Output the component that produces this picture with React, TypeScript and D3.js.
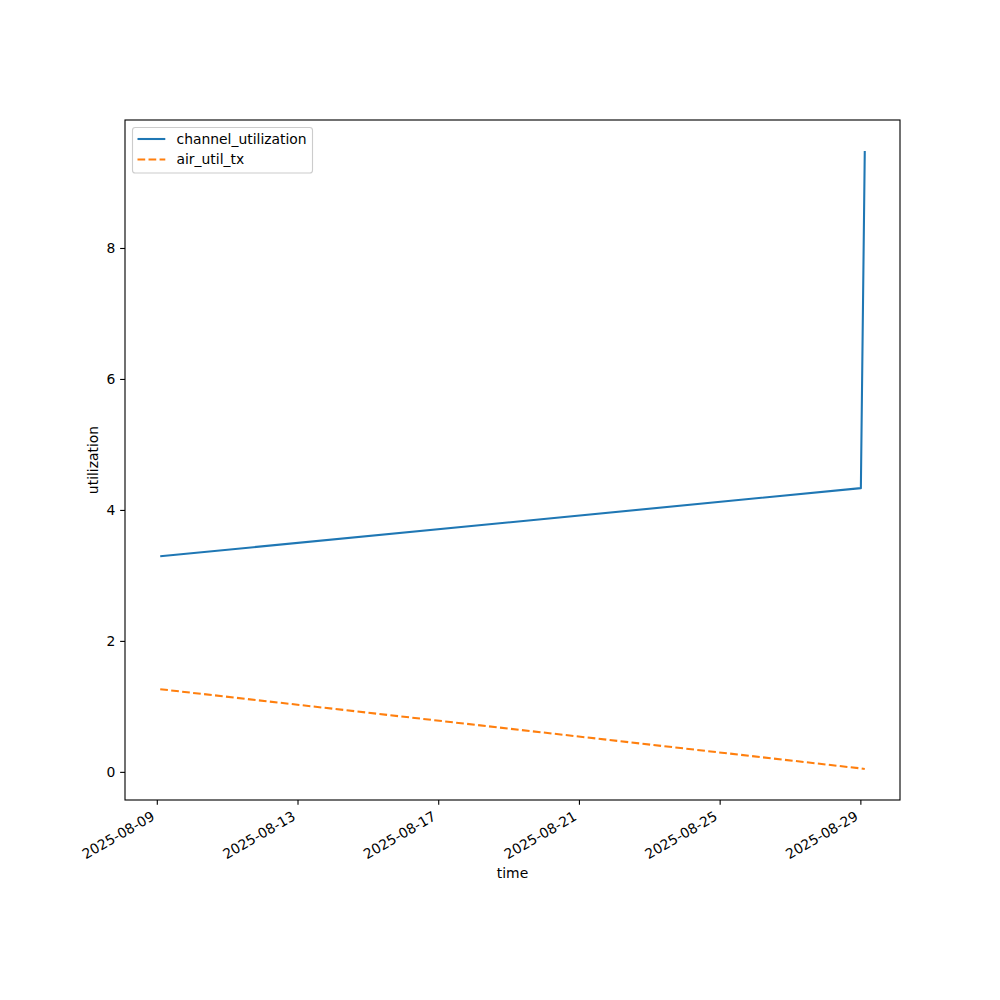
import React from "react";
import * as d3 from "d3";

const times = ["2025-08-09T02:00:00Z", "2025-08-29T00:00:00Z", "2025-08-29T02:40:00Z"];
const channelUtilization = [3.3, 4.34, 9.49];
const airUtilTx = [1.27, 0.06, 0.05];
const xTickLabels = ["2025-08-09", "2025-08-13", "2025-08-17", "2025-08-21", "2025-08-25", "2025-08-29"];
const yTickValues = [0, 2, 4, 6, 8];
const seriesNames = ["channel_utilization", "air_util_tx"];

const W = 1000, H = 1000;
const L = 125, R = 900, T = 120, B = 800;
const FONT = "DejaVu Sans, sans-serif";
const FS = 13.9;

export default function App() {
  const dates = times.map((t) => new Date(t));
  const [x0, x1] = d3.extent(dates) as [Date, Date];
  const xPad = (x1.getTime() - x0.getTime()) * 0.05;
  const x = d3
    .scaleUtc()
    .domain([new Date(x0.getTime() - xPad), new Date(x1.getTime() + xPad)])
    .range([L, R]);
  const allY = channelUtilization.concat(airUtilTx);
  const yMin = d3.min(allY)!, yMax = d3.max(allY)!;
  const yPad = (yMax - yMin) * 0.05;
  const y = d3.scaleLinear().domain([yMin - yPad, yMax + yPad]).range([B, T]);

  const line = d3
    .line<[Date, number]>()
    .x((d) => x(d[0]))
    .y((d) => y(d[1]));
  const chPath = line(dates.map((d, i) => [d, channelUtilization[i]]))!;
  const airPath = line(dates.map((d, i) => [d, airUtilTx[i]]))!;

  const tickLen = 4.86;
  const colors = ["#1f77b4", "#ff7f0e"];

  return (
    <svg
      width={W}
      height={H}
      style={{ position: "absolute", left: 0, top: 0, background: "#fff" }}
      fontFamily={FONT}
    >
      <rect x={0} y={0} width={W} height={H} fill="#fff" />
      <path d={chPath} fill="none" stroke={colors[0]} strokeWidth={2.08} strokeLinejoin="round" strokeLinecap="butt" />
      <path d={airPath} fill="none" stroke={colors[1]} strokeWidth={2.08} strokeDasharray="7.7,3.33" />
      {/* frame */}
      <rect x={L} y={T} width={R - L} height={B - T} fill="none" stroke="#000" strokeWidth={1.11} />
      {/* x ticks */}
      {xTickLabels.map((lab) => {
        const tx = x(new Date(lab + "T00:00:00Z"));
        return (
          <g key={lab}>
            <line x1={tx} x2={tx} y1={B} y2={B + tickLen} stroke="#000" strokeWidth={1.11} />
            <text
              transform={`translate(${tx - 1.7},${B + tickLen + 4.86 + 9.4}) rotate(-30)`}
              textAnchor="end"
              fontSize={FS}
              fill="#000"
            >
              {lab}
            </text>
          </g>
        );
      })}
      {/* y ticks */}
      {yTickValues.map((v) => (
        <g key={v}>
          <line x1={L - tickLen} x2={L} y1={y(v)} y2={y(v)} stroke="#000" strokeWidth={1.11} />
          <text x={L - tickLen - 4.86} y={y(v)} dy="0.35em" textAnchor="end" fontSize={FS} fill="#000">
            {v}
          </text>
        </g>
      ))}
      <text x={(L + R) / 2} y={878} textAnchor="middle" fontSize={FS} fill="#000">
        time
      </text>
      <text transform={`translate(98,${(T + B) / 2}) rotate(-90)`} textAnchor="middle" fontSize={FS} fill="#000">
        utilization
      </text>
      {/* legend */}
      <rect x={132.5} y={127.5} width={180} height={45.5} rx={2.8} fill="#fff" fillOpacity={0.8} stroke="#cccccc" strokeWidth={1.11} />
      {seriesNames.map((name, i) => {
        const ly = 139 + i * 20.5;
        return (
          <g key={name}>
            <line
              x1={137.5}
              x2={165.3}
              y1={ly}
              y2={ly}
              stroke={colors[i]}
              strokeWidth={2.08}
              strokeDasharray={i === 1 ? "7.7,3.33" : undefined}
            />
            <text x={176.5} y={ly} dy="0.35em" fontSize={FS} fill="#000">
              {name}
            </text>
          </g>
        );
      })}
    </svg>
  );
}
